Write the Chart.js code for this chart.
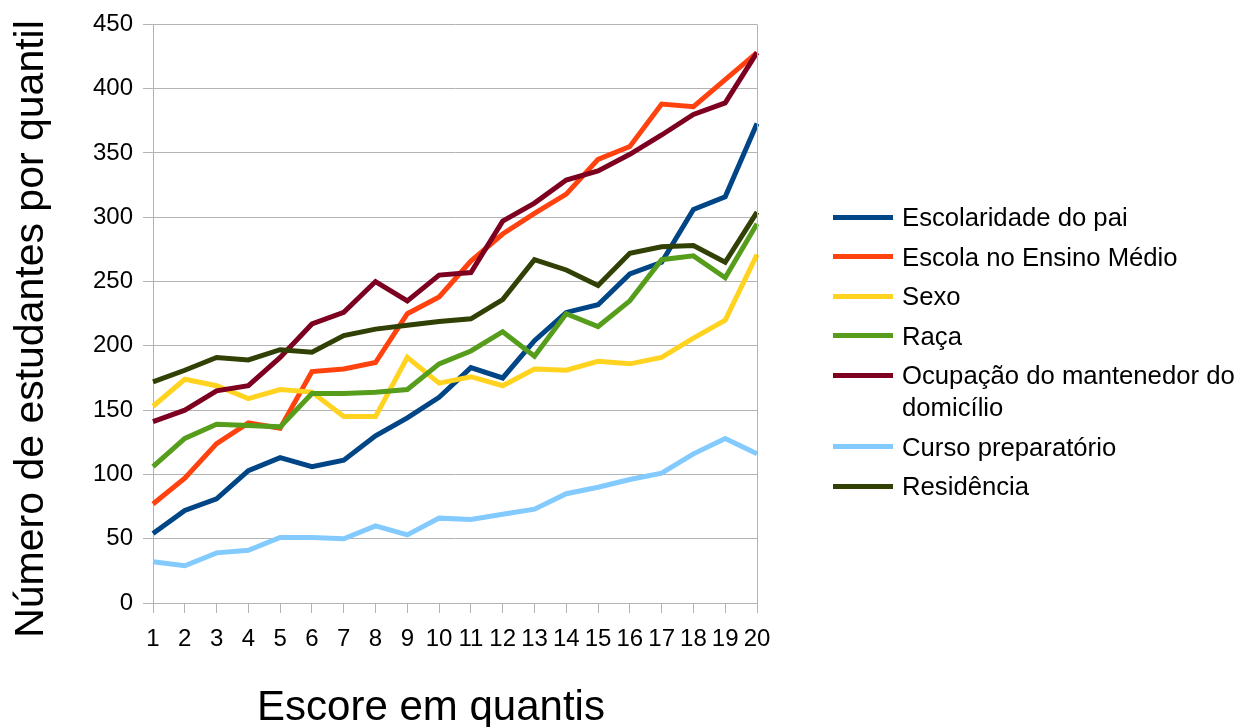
<!DOCTYPE html>
<html>
<head>
<meta charset="utf-8">
<script src="https://cdn.jsdelivr.net/npm/chart.js@4"></script>
<style>
  html,body{margin:0;padding:0;background:#fff;}
  #wrap{position:relative;width:1239px;height:727px;overflow:hidden;}
  #chart{position:absolute;left:0;top:0;}
  #legend{position:absolute;left:833px;top:201px;width:406px;font-family:"Liberation Sans",Arial,sans-serif;font-size:25.7px;color:#000;}
  .item{display:flex;align-items:flex-start;margin-bottom:7.5px;line-height:32px;}
  .swatch{flex:0 0 60px;height:5px;margin-top:13.5px;margin-right:9px;}
  .txt{width:337px;}
</style>
</head>
<body>
<div id="wrap">
  <canvas id="chart" width="1239" height="727"></canvas>
  <div id="legend"></div>
</div>
<script>
const quantis = ['1','2','3','4','5','6','7','8','9','10','11','12','13','14','15','16','17','18','19','20'];
const seriesNames = ['Escolaridade do pai','Escola no Ensino Médio','Sexo','Raça','Ocupação do mantenedor do domicílio','Curso preparatório','Residência'];
const seriesColors = ['#004586','#ff420e','#ffd320','#579d1c','#7e0021','#83caff','#314004'];

const escolaridadePai   = [54,72,81,103,113,106,111,130,144,160,183,175,204,226,232,256,265,306,316,373];
const escolaEnsinoMedio = [77,97,124,140,136,180,182,187,225,238,266,287,303,318,345,355,388,386,407,428];
const sexo              = [153,174,169,159,166,164,145,145,191,171,176,169,182,181,188,186,191,206,220,271];
const raca              = [106,128,139,138,137,163,163,164,166,186,196,211,192,225,215,235,267,270,253,295];
const ocupacao          = [141,150,165,169,191,217,226,250,235,255,257,297,311,329,336,349,364,380,389,428];
const cursoPreparatorio = [32,29,39,41,51,51,50,60,53,66,65,69,73,85,90,96,101,116,128,116];
const residencia        = [172,181,191,189,197,195,208,213,216,219,221,236,267,259,247,272,277,278,265,304];

const yTitle = 'Número de estudantes por quantil';
const xTitle = 'Escore em quantis';

const allSeries=[escolaridadePai,escolaEnsinoMedio,sexo,raca,ocupacao,cursoPreparatorio,residencia];
const FONT='"Liberation Sans", Arial, sans-serif';

// axis titles + right frame line, drawn like the office chart
const extras={
  id:'extras',
  afterDraw(chart){
    const {ctx,chartArea:a}=chart;
    ctx.save();
    ctx.strokeStyle='#b3b3b3';ctx.lineWidth=1;
    ctx.beginPath();ctx.moveTo(a.right+0.5,a.top);ctx.lineTo(a.right+0.5,a.bottom);ctx.stroke();
    ctx.fillStyle='#000';ctx.textAlign='center';ctx.textBaseline='alphabetic';
    ctx.font='42px '+FONT;
    ctx.fillText(xTitle,431,720);
    ctx.font='41px '+FONT;
    ctx.translate(43,329);ctx.rotate(-Math.PI/2);
    ctx.fillText(yTitle,0,0);
    ctx.restore();
  }
};

new Chart(document.getElementById('chart'),{
  type:'line',
  data:{
    labels:quantis,
    datasets:allSeries.map((d,i)=>({
      label:seriesNames[i],
      data:d,
      borderColor:seriesColors[i],
      backgroundColor:seriesColors[i],
      borderWidth:5,
      pointRadius:0,
      tension:0,
      fill:false,
      order:allSeries.length-i
    }))
  },
  options:{
    responsive:false,
    animation:false,
    layout:{padding:{left:0,top:22,right:482,bottom:0}},
    plugins:{legend:{display:false},tooltip:{enabled:false}},
    scales:{
      x:{
        offset:false,
        grid:{display:true,drawOnChartArea:false,drawTicks:true,tickLength:10,color:'#b3b3b3'},
        border:{color:'#b3b3b3'},
        ticks:{color:'#000',font:{family:FONT,size:24},padding:12,maxRotation:0,autoSkip:false},
        afterFit(s){s.height=124;}
      },
      y:{
        min:0,max:450,
        grid:{color:'#b3b3b3',tickLength:10},
        border:{color:'#b3b3b3'},
        ticks:{stepSize:50,color:'#000',font:{family:FONT,size:24},padding:10},
        afterFit(s){s.width=153;}
      }
    }
  },
  plugins:[extras]
});

const leg=document.getElementById('legend');
seriesNames.forEach((n,i)=>{
  const it=document.createElement('div');it.className='item';
  it.innerHTML='<span class="swatch" style="background:'+seriesColors[i]+'"></span><span class="txt">'+n+'</span>';
  leg.appendChild(it);
});
</script>
</body>
</html>
